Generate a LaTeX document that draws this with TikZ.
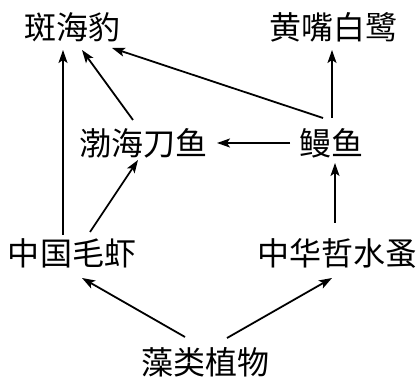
\documentclass[tikz,border=0pt]{standalone}
\usepackage{fontspec}
\newfontfamily\cjk{Noto Sans CJK SC}
\usetikzlibrary{arrows.meta}

\begin{document}
\begin{tikzpicture}[x=1pt,y=1pt,
    species/.style={inner sep=0pt,font=\cjk\fontsize{32pt}{32pt}\selectfont},
    eats/.style={-{Stealth[length=13pt,width=9pt,inset=3pt]},line width=1.8pt}]
      \useasboundingbox (0,0) rectangle (419,382);
      % organisms of the food web
      \node[species] (seal)   at (72,355)  {斑海豹};
      \node[species] (egret)  at (333,355) {黄嘴白鹭};
      \node[species] (anchovy) at (143,239) {渤海刀鱼};
      \node[species] (eel)    at (331,239) {鳗鱼};
      \node[species] (shrimp) at (72,129)  {中国毛虾};
      \node[species] (copepod) at (337,129) {中华哲水蚤};
      \node[species] (algae)  at (205,20)  {藻类植物};
      % energy flow
      \draw[eats] ([shift={(-20pt,25pt)}]algae.center) -- ([shift={(10pt,-25pt)}]shrimp.center);
      \draw[eats] ([shift={(22pt,24pt)}]algae.center) -- ([shift={(-5pt,-25pt)}]copepod.center);
      \draw[eats] ([shift={(-9pt,18pt)}]shrimp.center) -- ([shift={(-9pt,-23pt)}]seal.center);
      \draw[eats] ([shift={(18pt,21pt)}]shrimp.center) -- ([shift={(-5pt,-17pt)}]anchovy.center);
      \draw[eats] ([shift={(-10pt,23pt)}]anchovy.center) -- ([shift={(10pt,-23pt)}]seal.center);
      \draw[eats] ([shift={(-2pt,30pt)}]copepod.center) -- ([shift={(4pt,-20pt)}]eel.center);
      \draw[eats] ([shift={(-41pt,0pt)}]eel.center) -- ([shift={(74pt,0pt)}]anchovy.center);
      \draw[eats] ([shift={(-8pt,25pt)}]eel.center) -- ([shift={(40pt,-21pt)}]seal.center);
      \draw[eats] ([shift={(1pt,25pt)}]eel.center) -- ([shift={(-1pt,-23pt)}]egret.center);
    \end{tikzpicture}
\end{document}
